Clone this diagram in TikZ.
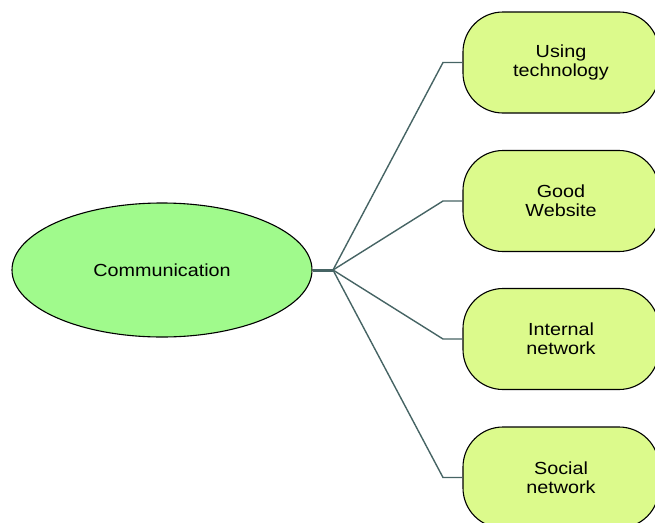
\documentclass[tikz,border=0pt]{standalone}
\usepackage{fontspec}
\setmainfont[FakeStretch=1.13]{Liberation Sans}
\usepackage{tikz}
\usetikzlibrary{positioning, shapes.geometric}

\definecolor{hubgreen}{RGB}{160,250,140}
\definecolor{leafgreen}{RGB}{220,250,140}
\definecolor{linkgray}{RGB}{70,100,100}

\begin{document}
\begin{tikzpicture}[x=1pt, y=-1pt]
    \useasboundingbox (0,0) rectangle (655,522);
    \clip (0,0) rectangle (655,522);
    \tikzset{
        leaf/.style={draw, line width=1.1pt, fill=leafgreen, rounded corners=40pt,
            minimum width=196pt, minimum height=101pt, align=center,
            font=\fontsize{17.5}{19}\selectfont},
        link/.style={draw=linkgray, line width=1.4pt}
    }
    \node[draw, ellipse, line width=1.1pt, fill=hubgreen, minimum width=300pt,
        minimum height=134pt, font=\fontsize{17.5}{19}\selectfont] (comm) at (162, 270) {Communication};

    \node[leaf] (tech) at (561, 62.5) {Using\\technology};
    \node[leaf] (web) at (561, 201) {Good\\Website};
    \node[leaf] (intern) at (561, 339) {Internal\\network};
    \node[leaf] (social) at (561, 477.5) {Social\\network};

    \coordinate (hub) at (333, 270);
    \coordinate (b1) at (443, 62.5);
    \coordinate (b2) at (443, 201);
    \coordinate (b3) at (443, 339);
    \coordinate (b4) at (443, 477.5);

    \draw[draw=linkgray, line width=3pt] (comm.east) -- (hub);
    \draw[link] (hub) -- (b1) -- (tech.west);
    \draw[link] (hub) -- (b2) -- (web.west);
    \draw[link] (hub) -- (b3) -- (intern.west);
    \draw[link] (hub) -- (b4) -- (social.west);
\end{tikzpicture}
\end{document}
